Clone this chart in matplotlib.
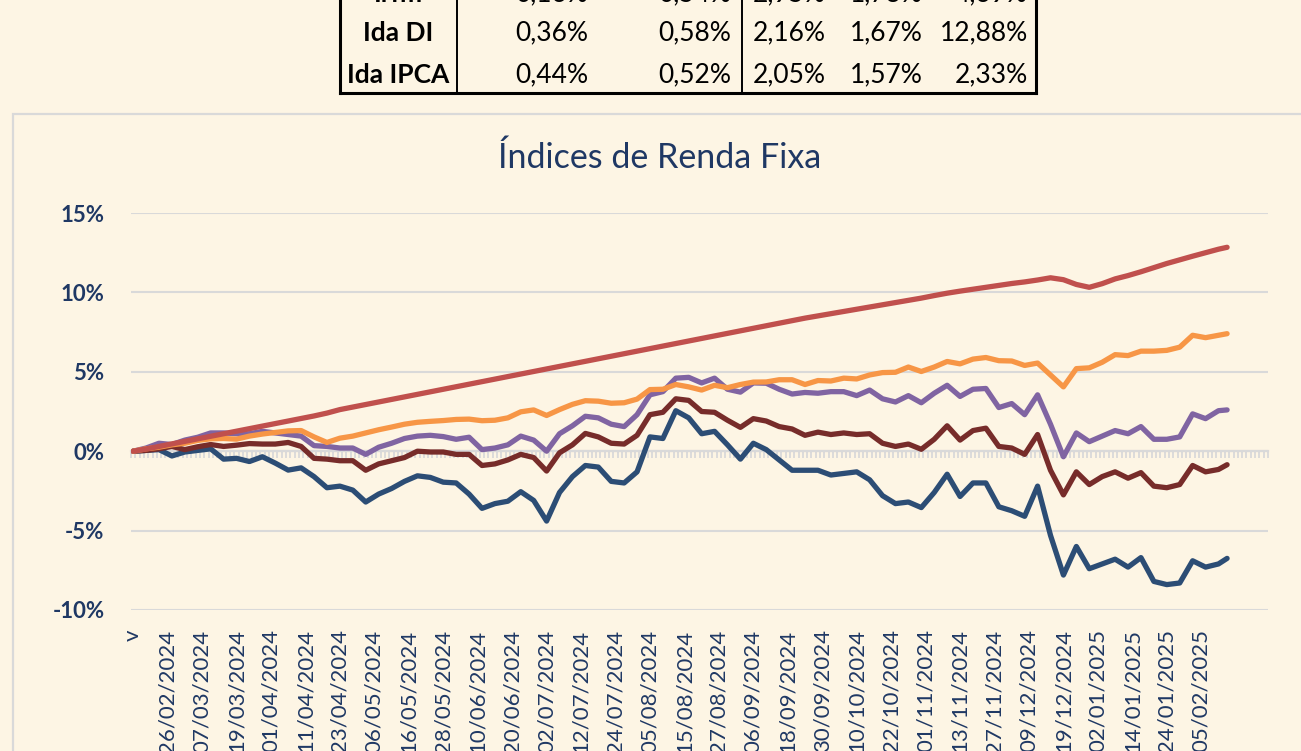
import matplotlib.pyplot as plt
from matplotlib.lines import Line2D
from matplotlib.patches import Rectangle
import numpy as np

plt.rcParams['font.family'] = ['Lato', 'DejaVu Sans']

BG = '#FDF5E4'
NAVY = '#1F3864'
GRID = '#D9D9D9'

idx = list(range(0, 253, 3)) + [254]

ida_di = [0.00, 0.14, 0.30, 0.46, 0.62, 0.78, 0.94, 1.10, 1.26, 1.42,
          1.58, 1.74, 1.90, 2.06, 2.22, 2.40, 2.62, 2.78, 2.94, 3.10,
          3.26, 3.42, 3.58, 3.74, 3.90, 4.06, 4.22, 4.38, 4.54, 4.70,
          4.86, 5.02, 5.18, 5.34, 5.50, 5.66, 5.82, 5.98, 6.14, 6.30,
          6.46, 6.62, 6.78, 6.94, 7.10, 7.26, 7.42, 7.58, 7.74, 7.90,
          8.06, 8.22, 8.38, 8.52, 8.66, 8.80, 8.94, 9.08, 9.22, 9.36,
          9.50, 9.64, 9.80, 9.95, 10.08, 10.20, 10.32, 10.44, 10.56, 10.66,
          10.78, 10.92, 10.80, 10.50, 10.32, 10.55, 10.85, 11.06, 11.30, 11.56,
          11.82, 12.05, 12.28, 12.50, 12.72,
          12.84]

serie_laranja = [0.0, 0.15, 0.25, 0.4, 0.5, 0.68, 0.78, 0.8, 0.76, 0.95,
                 1.08, 1.18, 1.28, 1.3, 0.9, 0.55, 0.82, 0.95, 1.15, 1.35,
                 1.52, 1.7, 1.82, 1.88, 1.93, 2.0, 2.02, 1.92, 1.95, 2.1,
                 2.48, 2.6, 2.25, 2.62, 2.95, 3.18, 3.15, 3.02, 3.05, 3.28,
                 3.88, 3.9, 4.2, 4.05, 3.85, 4.15, 4.0, 4.2, 4.35, 4.36,
                 4.5, 4.5, 4.2, 4.45, 4.42, 4.6, 4.55, 4.8, 4.95, 4.97,
                 5.3, 5.02, 5.3, 5.65, 5.5, 5.8, 5.9, 5.7, 5.68, 5.4,
                 5.55, 4.8, 4.05, 5.2, 5.25, 5.6, 6.08, 6.02, 6.3, 6.3,
                 6.35, 6.55, 7.3, 7.15, 7.3,
                 7.4]

ida_ipca = [0.0, 0.2, 0.5, 0.42, 0.7, 0.88, 1.15, 1.15, 1.1, 1.1,
            1.25, 1.15, 1.05, 0.95, 0.35, 0.3, 0.2, 0.2, -0.2, 0.25,
            0.5, 0.8, 0.95, 1.0, 0.92, 0.75, 0.88, 0.1, 0.2, 0.4,
            0.95, 0.7, 0.0, 1.1, 1.6, 2.2, 2.1, 1.7, 1.55, 2.3,
            3.55, 3.75, 4.6, 4.65, 4.3, 4.6, 3.9, 3.72, 4.3, 4.28,
            3.9, 3.6, 3.7, 3.65, 3.75, 3.75, 3.5, 3.85, 3.3, 3.1,
            3.5, 3.05, 3.65, 4.15, 3.45, 3.9, 3.95, 2.75, 3.0, 2.3,
            3.55, 1.7, -0.35, 1.15, 0.6, 0.95, 1.3, 1.1, 1.55, 0.75,
            0.75, 0.9, 2.35, 2.05, 2.55,
            2.6]

serie_bordo = [0.0, 0.05, 0.15, 0.3, 0.1, 0.28, 0.42, 0.3, 0.38, 0.48,
               0.45, 0.45, 0.55, 0.3, -0.45, -0.5, -0.6, -0.6, -1.2, -0.8,
               -0.6, -0.4, 0.0, -0.05, -0.05, -0.2, -0.2, -0.9, -0.8, -0.55,
               -0.2, -0.4, -1.25, -0.1, 0.4, 1.12, 0.9, 0.5, 0.45, 1.0,
               2.3, 2.45, 3.3, 3.2, 2.5, 2.45, 1.95, 1.5, 2.05, 1.9,
               1.55, 1.4, 1.0, 1.2, 1.05, 1.15, 1.05, 1.1, 0.5, 0.3,
               0.45, 0.12, 0.75, 1.6, 0.7, 1.3, 1.45, 0.3, 0.2, -0.2,
               1.05, -1.2, -2.75, -1.3, -2.1, -1.6, -1.3, -1.7, -1.35, -2.2,
               -2.3, -2.1, -0.9, -1.3, -1.15,
               -0.85]

serie_azul = [0.0, 0.05, 0.1, -0.3, -0.05, 0.05, 0.15, -0.5, -0.45, -0.65,
              -0.35, -0.75, -1.19, -1.05, -1.6, -2.3, -2.2, -2.45, -3.2, -2.7,
              -2.35, -1.9, -1.55, -1.65, -1.95, -2.0, -2.7, -3.6, -3.3, -3.15,
              -2.55, -3.1, -4.4, -2.6, -1.6, -0.9, -1.0, -1.9, -2.0, -1.3,
              0.9, 0.8, 2.55, 2.1, 1.1, 1.25, 0.4, -0.5, 0.5, 0.1,
              -0.55, -1.2, -1.2, -1.2, -1.5, -1.4, -1.3, -1.8, -2.8, -3.3,
              -3.2, -3.55, -2.6, -1.45, -2.85, -2.0, -2.0, -3.5, -3.75, -4.1,
              -2.2, -5.3, -7.8, -6.0, -7.4, -7.1, -6.8, -7.3, -6.7, -8.2,
              -8.4, -8.3, -6.9, -7.3, -7.1,
              -6.75]

date_labels = ['v', '26/02/2024', '07/03/2024', '19/03/2024', '01/04/2024',
               '11/04/2024', '23/04/2024', '06/05/2024', '16/05/2024',
               '28/05/2024', '10/06/2024', '20/06/2024', '02/07/2024',
               '12/07/2024', '24/07/2024', '05/08/2024', '15/08/2024',
               '27/08/2024', '06/09/2024', '18/09/2024', '30/09/2024',
               '10/10/2024', '22/10/2024', '01/11/2024', '13/11/2024',
               '27/11/2024', '09/12/2024', '19/12/2024', '02/01/2025',
               '14/01/2025', '24/01/2025', '05/02/2025']
label_step = 8
n_cat = 264

# summary table (top row is cut off in the original)
tab_names = ['Irfm', 'Ida DI', 'Ida IPCA']
tab_values = [['0,16%', '0,54%', '2,95%', '1,73%', '4,69%'],
              ['0,36%', '0,58%', '2,16%', '1,67%', '12,88%'],
              ['0,44%', '0,52%', '2,05%', '1,57%', '2,33%']]

W, H = 1301, 751
fig = plt.figure(figsize=(W / 100, H / 100), dpi=100, facecolor=BG)


def fx(px):
    return px / W


def fy(py):
    return 1 - py / H


# table
tab_row_y = [-6, 33, 75]
tab_col_right = [588, 731, 826, 923, 1028]
for name, vals, ry in zip(tab_names, tab_values, tab_row_y):
    fig.text(fx(398), fy(ry), name, ha='center', va='center',
             fontsize=19, fontweight='bold', color='black')
    for v, cx in zip(vals, tab_col_right):
        fig.text(fx(cx), fy(ry), v, ha='right', va='center',
                 fontsize=19, color='black')
for x, lw in [(340, 2.2), (457, 1.4), (742, 1.4), (1036, 2.2)]:
    fig.add_artist(Line2D([fx(x), fx(x)], [fy(93), 1.01], color='black',
                          lw=lw, transform=fig.transFigure))
fig.add_artist(Line2D([fx(340), fx(1036)], [fy(93), fy(93)], color='black',
                      lw=2.2, transform=fig.transFigure))

# chart frame
fig.add_artist(Rectangle((fx(13), -0.1), 1.2, fy(114) + 0.1, fill=False,
                         edgecolor=GRID, lw=1.6, transform=fig.transFigure))

fig.text(fx(660), fy(158), 'Índices de Renda Fixa', ha='center', va='center',
         fontsize=24.5, color=NAVY)

ax = fig.add_axes([fx(131), fy(610), fx(1268) - fx(131), fy(213) - fy(610)])
ax.set_facecolor(BG)

series = [(serie_azul, '#2C4D75'), (serie_bordo, '#772C2A'),
          (ida_ipca, '#8064A2'), (serie_laranja, '#F79646'), (ida_di, '#C0504D')]
for vals, col in series:
    ax.plot(idx, vals, color=col, lw=3.8, solid_capstyle='round',
            solid_joinstyle='round')

ax.set_xlim(-0.5, n_cat - 0.5)
ax.set_ylim(-10, 15)
yt = [-10, -5, 0, 5, 10, 15]
ax.set_yticks(yt)
ax.set_yticklabels([f'{v}%' for v in yt], fontsize=16, fontweight='bold',
                   color=NAVY)
ax.yaxis.grid(True, color=GRID, lw=1.5)
ax.set_axisbelow(True)

ax.set_xticks(range(0, label_step * len(date_labels), label_step))
ax.set_xticklabels(date_labels, rotation=90, fontsize=16, color=NAVY)
ax.tick_params(axis='x', length=0, pad=14)
ax.tick_params(axis='y', length=0, pad=19)
for s in ax.spines.values():
    s.set_visible(False)

# category axis crossing at zero, with a tick per category
sec = ax.secondary_xaxis(10 / 25)
sec.set_xticks(np.arange(-0.5, n_cat, 1))
sec.tick_params(axis='x', length=5, width=1.3, color=GRID, labelbottom=False,
                labeltop=False, direction='out')
for s in sec.spines.values():
    s.set_color(GRID)
    s.set_linewidth(1.6)

fig.savefig('out.png', dpi=100, facecolor=BG)
